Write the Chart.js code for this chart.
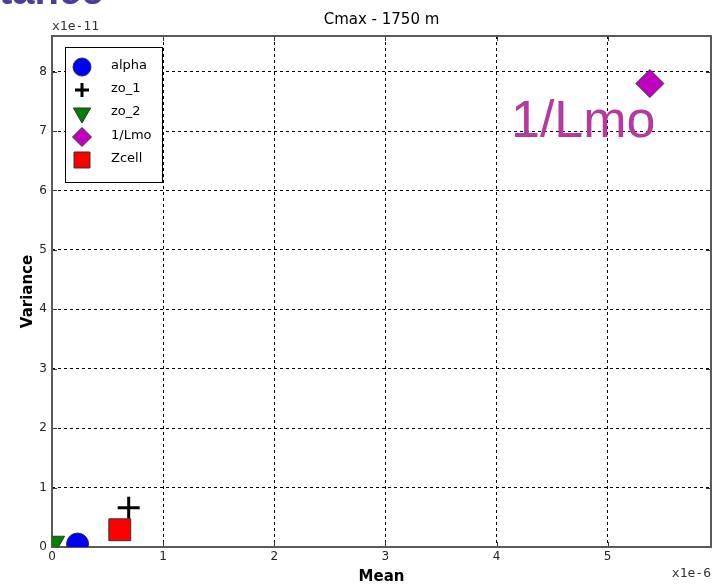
<!DOCTYPE html>
<html>
<head>
<meta charset="utf-8">
<script src="https://cdn.jsdelivr.net/npm/chart.js@4/dist/chart.umd.min.js"></script>
<style>
  html, body { margin: 0; padding: 0; background: #fff; }
  #wrap { position: relative; width: 722px; height: 584px; }
</style>
</head>
<body>
<div id="wrap"><canvas id="cmax" width="722" height="584"></canvas></div>
<script>
// series, in legend order
const seriesNames = ['alpha', 'zo_1', 'zo_2', '1/Lmo', 'Zcell']
// mean (x1e-6) and variance (x1e-11) of each parameter
const meanValues = [0.23, 0.69, 0.02, 5.38, 0.61]
const varianceValues = [0.05, 0.66, 0.08, 7.80, 0.29]
const markerStyles = ['circle', 'cross', 'triangle', 'rectRot', 'rect']
const markerRotation = [0, 0, 180, 0, 0]
const markerColors = ['#0000ff', '#000000', '#007f00', '#bf00bf', '#ff0000']
const markerRadius = [11, 11, 12, 14, 15.5]
const legendRadius = [9, 7, 10, 9.5, 11.3]

const xTicks = [0, 1, 2, 3, 4, 5]
const yTicks = [0, 1, 2, 3, 4, 5, 6, 7, 8]
const xMax = 5.93
const yMax = 8.6

const datasets = seriesNames.map((name, i) => {
    return {
        label: name,
        data: [{ x: meanValues[i], y: varianceValues[i] }],
        pointStyle: markerStyles[i],
        rotation: markerRotation[i],
        pointRadius: markerRadius[i],
        pointHoverRadius: markerRadius[i],
        backgroundColor: markerColors[i],
        borderColor: i == 1 ? '#000' : '#333',
        borderWidth: i == 1 ? 3 : 1,
        clip: 0,
        order: seriesNames.length - i
    }
})

// frame, inward tick marks, titles and legend box
const decorations = {
    id: 'decorations',
    beforeDatasetsDraw(chart) {
        const ctx = chart.ctx
        const a = chart.chartArea
        const xs = chart.scales.x
        const ys = chart.scales.y
        ctx.save()
        ctx.strokeStyle = '#333'
        ctx.lineWidth = 1
        ctx.beginPath()
        xTicks.forEach(v => {
            const px = Math.round(xs.getPixelForValue(v)) + 0.5
            ctx.moveTo(px, a.bottom); ctx.lineTo(px, a.bottom - 5)
            ctx.moveTo(px, a.top); ctx.lineTo(px, a.top + 5)
        })
        yTicks.forEach(v => {
            const py = Math.round(ys.getPixelForValue(v)) + 0.5
            ctx.moveTo(a.left, py); ctx.lineTo(a.left + 5, py)
            ctx.moveTo(a.right, py); ctx.lineTo(a.right - 5, py)
        })
        ctx.stroke()
        ctx.strokeStyle = '#5a5a5a'
        ctx.lineWidth = 2
        ctx.strokeRect(a.left, a.top, a.right - a.left, a.bottom - a.top)
        ctx.restore()
    },
    afterDraw(chart) {
        const ctx = chart.ctx
        const a = chart.chartArea
        const cx = (a.left + a.right) / 2
        ctx.save()

        // slide heading cut at the top edge
        ctx.fillStyle = '#4b3c9e'
        ctx.font = 'bold 40px "Liberation Sans"'
        ctx.textAlign = 'left'
        ctx.textBaseline = 'alphabetic'
        ctx.fillText('tance', -1, 4)

        ctx.fillStyle = '#000'
        ctx.font = '15px "DejaVu Sans"'
        ctx.textAlign = 'center'
        ctx.fillText('Cmax - 1750 m', cx, 24)

        ctx.font = 'bold 15px "DejaVu Sans"'
        ctx.fillText('Mean', cx, 581)
        ctx.save()
        ctx.translate(32, (a.top + a.bottom) / 2)
        ctx.rotate(-Math.PI / 2)
        ctx.fillText('Variance', 0, 0)
        ctx.restore()

        ctx.fillStyle = '#333'
        ctx.font = '13px "DejaVu Sans Mono"'
        ctx.textAlign = 'left'
        ctx.fillText('x1e-11', a.left, 30)
        ctx.textAlign = 'right'
        ctx.fillText('x1e-6', a.right, 577)

        // label beside the 1/Lmo point
        ctx.fillStyle = '#b5399f'
        ctx.font = '52px "Liberation Sans"'
        ctx.textAlign = 'left'
        ctx.fillText('1/Lmo', 511, 137)

        // legend
        const box = { x: 65.5, y: 47.5, w: 97, h: 135 }
        ctx.fillStyle = '#fff'
        ctx.fillRect(box.x, box.y, box.w, box.h)
        ctx.strokeStyle = '#000'
        ctx.lineWidth = 1
        ctx.strokeRect(box.x, box.y, box.w, box.h)
        const rows = [67, 90, 113, 137, 160]
        seriesNames.forEach((name, i) => {
            ctx.fillStyle = markerColors[i]
            ctx.strokeStyle = i == 1 ? '#000' : '#333'
            ctx.lineWidth = i == 1 ? 3 : 1
            Chart.helpers.drawPoint(ctx, {
                pointStyle: markerStyles[i],
                rotation: markerRotation[i],
                radius: legendRadius[i],
                borderWidth: ctx.lineWidth
            }, 82, rows[i])
            ctx.fillStyle = '#000'
            ctx.font = '13px "DejaVu Sans"'
            ctx.textAlign = 'left'
            ctx.textBaseline = 'middle'
            ctx.fillText(name, 111, rows[i] - 1)
        })
        ctx.restore()
    }
}

const canvas = document.getElementById('cmax')
new Chart(canvas, {
    type: 'scatter',
    data: { datasets: datasets },
    options: {
        responsive: false,
        animation: false,
        events: [],
        layout: { autoPadding: false, padding: { top: 36, right: 11, left: 0, bottom: 0 } },
        plugins: { legend: { display: false }, tooltip: { enabled: false }, title: { display: false } },
        scales: {
            x: {
                type: 'linear',
                min: 0,
                max: xMax,
                afterFit(scale) {
                    scale.height = 37
                    scale.paddingLeft = 0
                    scale.paddingRight = 0
                },
                afterBuildTicks(scale) { scale.ticks = xTicks.map(v => ({ value: v })) },
                ticks: {
                    padding: 3,
                    color: '#222',
                    font: { family: 'DejaVu Sans', size: 12 },
                    maxRotation: 0,
                    callback: v => String(v)
                },
                grid: { color: '#000', lineWidth: 1, drawTicks: false },
                border: { display: false, dash: [3, 3] }
            },
            y: {
                type: 'linear',
                min: 0,
                max: yMax,
                afterFit(scale) {
                    scale.width = 52
                    scale.paddingTop = 0
                    scale.paddingBottom = 0
                },
                afterBuildTicks(scale) { scale.ticks = yTicks.map(v => ({ value: v })) },
                ticks: {
                    padding: 5,
                    color: '#222',
                    font: { family: 'DejaVu Sans', size: 12 },
                    callback: v => String(v)
                },
                grid: { color: '#000', lineWidth: 1, drawTicks: false },
                border: { display: false, dash: [3, 3] }
            }
        }
    },
    plugins: [decorations]
})
</script>
</body>
</html>
